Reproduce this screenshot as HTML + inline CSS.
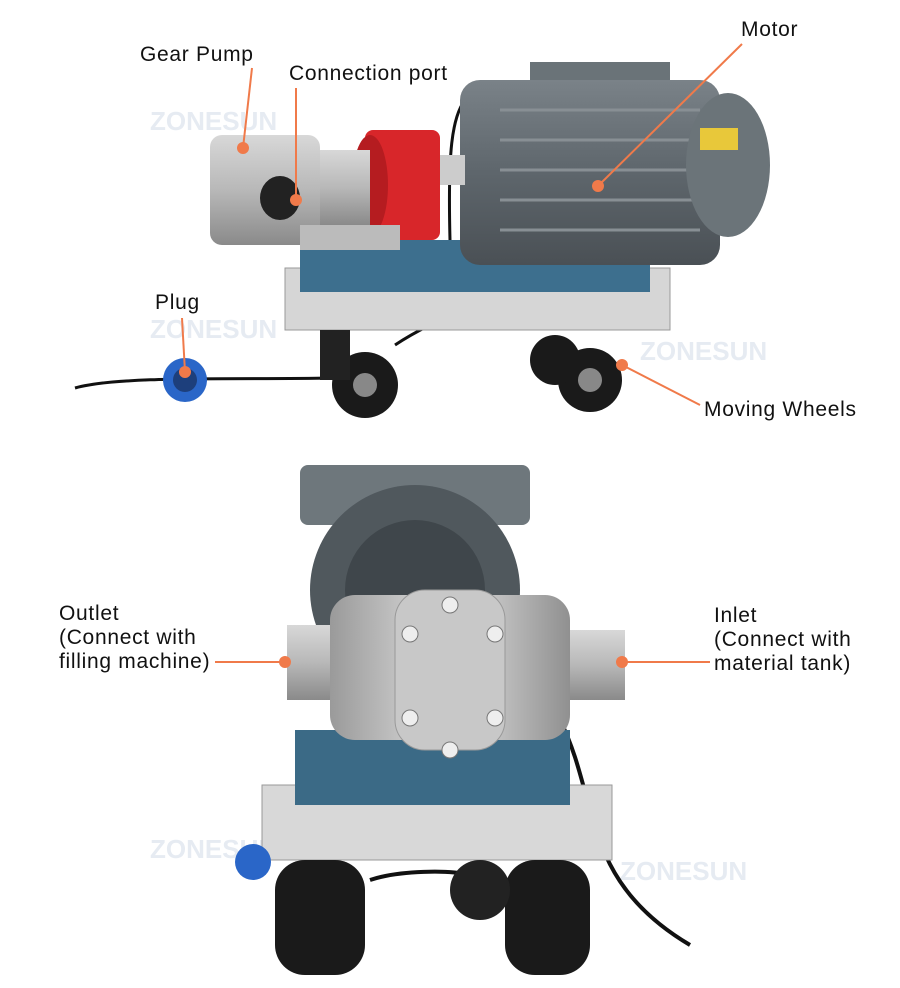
<!DOCTYPE html>
<html><head><meta charset="utf-8"><style>
html,body{margin:0;padding:0;background:#fff;}
svg{display:block}
text{font-family:"Liberation Sans",sans-serif;font-size:21px;letter-spacing:0.7px;fill:#111}
text.wm{font-size:26px;font-weight:bold;fill:#e6ebf2;letter-spacing:0}
</style></head><body>
<svg width="900" height="988" viewBox="0 0 900 988" xmlns="http://www.w3.org/2000/svg">
<defs>
<linearGradient id="steel" x1="0" y1="0" x2="0" y2="1"><stop offset="0" stop-color="#d8d8d8"/><stop offset="0.5" stop-color="#b8b8b8"/><stop offset="1" stop-color="#8a8a8a"/></linearGradient>
<linearGradient id="steelh" x1="0" y1="0" x2="1" y2="0"><stop offset="0" stop-color="#9a9a9a"/><stop offset="0.5" stop-color="#e0e0e0"/><stop offset="1" stop-color="#909090"/></linearGradient>
<linearGradient id="mot" x1="0" y1="0" x2="0" y2="1"><stop offset="0" stop-color="#7a8288"/><stop offset="0.5" stop-color="#5e666c"/><stop offset="1" stop-color="#4a5055"/></linearGradient>
</defs>
<rect width="900" height="988" fill="#fff"/>
<text class="wm" x="150" y="130">ZONESUN</text>
<text class="wm" x="150" y="338">ZONESUN</text>
<text class="wm" x="640" y="360">ZONESUN</text>
<text class="wm" x="150" y="858">ZONESUN</text>
<text class="wm" x="620" y="880">ZONESUN</text>
<!-- TOP MACHINE -->
<path d="M75,388 C120,375 250,380 330,378 M395,345 C410,335 420,330 430,325" stroke="#111" stroke-width="3" fill="none"/>
<path d="M470,95 C450,110 448,160 450,240" stroke="#111" stroke-width="3" fill="none"/>
<rect x="285" y="268" width="385" height="62" fill="#d6d6d6" stroke="#999"/>
<rect x="300" y="240" width="350" height="52" fill="#3d6f8e"/>
<rect x="530" y="62" width="140" height="38" fill="#6a7378"/>
<rect x="460" y="80" width="260" height="185" rx="20" fill="url(#mot)"/>
<g stroke="#888f94" stroke-width="3"><line x1="500" y1="110" x2="700" y2="110"/><line x1="500" y1="140" x2="700" y2="140"/><line x1="500" y1="170" x2="700" y2="170"/><line x1="500" y1="200" x2="700" y2="200"/><line x1="500" y1="230" x2="700" y2="230"/></g>
<ellipse cx="728" cy="165" rx="42" ry="72" fill="#6b7479"/>
<rect x="700" y="128" width="38" height="22" fill="#e8c83a"/>
<rect x="440" y="155" width="25" height="30" fill="#ccc"/>
<rect x="365" y="130" width="75" height="110" rx="8" fill="#d8262a"/>
<ellipse cx="370" cy="185" rx="18" ry="50" fill="#b51c20"/>
<rect x="315" y="150" width="55" height="75" fill="url(#steel)"/>
<rect x="210" y="135" width="110" height="110" rx="12" fill="url(#steel)"/>
<ellipse cx="280" cy="198" rx="20" ry="22" fill="#222"/>
<rect x="300" y="225" width="100" height="25" fill="#bbb"/>
<circle cx="365" cy="385" r="33" fill="#1a1a1a"/><circle cx="365" cy="385" r="12" fill="#888"/>
<rect x="320" y="330" width="30" height="50" fill="#222"/>
<circle cx="590" cy="380" r="32" fill="#1a1a1a"/><circle cx="590" cy="380" r="12" fill="#888"/>
<circle cx="555" cy="360" r="25" fill="#1a1a1a"/>
<circle cx="185" cy="380" r="22" fill="#2a66c8"/><circle cx="185" cy="380" r="12" fill="#1d3f7c"/>
<!-- BOTTOM MACHINE -->
<path d="M560,720 C600,800 580,880 690,945 M370,880 C400,870 450,870 470,875" stroke="#111" stroke-width="4" fill="none"/>
<path d="M410,490 C470,480 500,520 510,600" stroke="#111" stroke-width="5" fill="none"/>
<rect x="300" y="465" width="230" height="60" rx="8" fill="#6e777c"/>
<circle cx="415" cy="590" r="105" fill="#50585d"/>
<circle cx="415" cy="590" r="70" fill="#3f464b"/>
<rect x="262" y="785" width="350" height="75" fill="#d8d8d8" stroke="#999"/>
<rect x="295" y="730" width="275" height="75" fill="#3b6a86"/>
<rect x="287" y="625" width="55" height="75" fill="url(#steel)"/>
<rect x="560" y="630" width="65" height="70" fill="url(#steel)"/>
<rect x="330" y="595" width="240" height="145" rx="25" fill="url(#steelh)"/>
<rect x="395" y="590" width="110" height="160" rx="30" fill="#c8c8c8" stroke="#999"/>
<g fill="#eee" stroke="#777"><circle cx="410" cy="634" r="8"/><circle cx="495" cy="634" r="8"/><circle cx="410" cy="718" r="8"/><circle cx="495" cy="718" r="8"/><circle cx="450" cy="605" r="8"/><circle cx="450" cy="750" r="8"/></g>
<rect x="275" y="860" width="90" height="115" rx="30" fill="#1a1a1a"/>
<rect x="505" y="860" width="85" height="115" rx="30" fill="#1a1a1a"/>
<circle cx="480" cy="890" r="30" fill="#222"/>
<circle cx="253" cy="862" r="18" fill="#2a66c8"/>
<!-- LABELS -->
<g stroke="#f07a4a" stroke-width="2" fill="none">
<line x1="252" y1="68" x2="243" y2="148"/>
<line x1="296" y1="88" x2="296" y2="200"/>
<line x1="742" y1="44" x2="598" y2="186"/>
<line x1="182" y1="318" x2="185" y2="372"/>
<line x1="700" y1="405" x2="622" y2="365"/>
<line x1="215" y1="662" x2="285" y2="662"/>
<line x1="710" y1="662" x2="622" y2="662"/>
</g>
<g fill="#f07a4a">
<circle cx="243" cy="148" r="6"/><circle cx="296" cy="200" r="6"/><circle cx="598" cy="186" r="6"/>
<circle cx="185" cy="372" r="6"/><circle cx="622" cy="365" r="6"/><circle cx="285" cy="662" r="6"/><circle cx="622" cy="662" r="6"/>
</g>
<text x="140" y="61">Gear Pump</text>
<text x="289" y="80">Connection port</text>
<text x="741" y="36">Motor</text>
<text x="155" y="309">Plug</text>
<text x="704" y="416">Moving Wheels</text>
<text x="59" y="620">Outlet</text>
<text x="59" y="644">(Connect with</text>
<text x="59" y="668">filling machine)</text>
<text x="714" y="622">Inlet</text>
<text x="714" y="646">(Connect with</text>
<text x="714" y="670">material tank)</text>
</svg>
</body></html>
